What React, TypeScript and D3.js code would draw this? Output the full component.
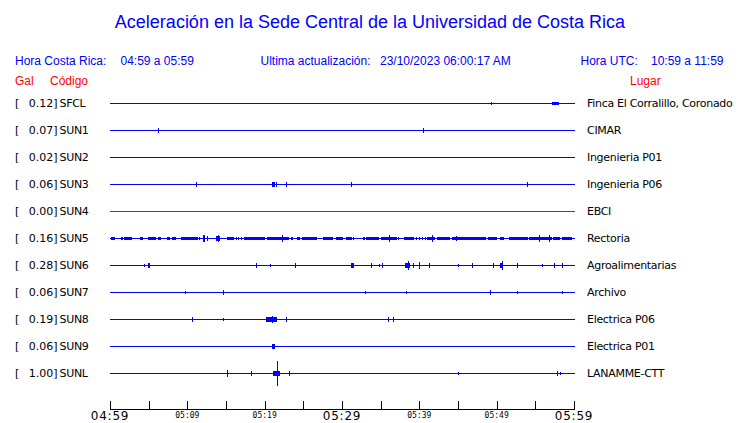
import React from "react";
import * as d3 from "d3";

const W = 740;
const H = 423;

const titleText = "Aceleración en la Sede Central de la Universidad de Costa Rica";
const headerLocal = ["Hora Costa Rica:", "04:59 a 05:59"];
const headerUpdate = ["Ultima actualización:", "23/10/2023 06:00:17 AM"];
const headerUtc = ["Hora UTC:", "10:59 a 11:59"];

const stations = ["SFCL", "SUN1", "SUN2", "SUN3", "SUN4", "SUN5", "SUN6", "SUN7", "SUN8", "SUN9", "SUNL"];
const peakGal = ["0.12", "0.07", "0.02", "0.06", "0.00", "0.16", "0.28", "0.06", "0.19", "0.06", "1.00"];
const places = [
  "Finca El Corralillo, Coronado",
  "CIMAR",
  "Ingenieria P01",
  "Ingenieria P06",
  "EBCI",
  "Rectoria",
  "Agroalimentarias",
  "Archivo",
  "Electrica P06",
  "Electrica P01",
  "LANAMME-CTT",
];
const traceColors = ["#0000ff", "#0000ff", "#0000ff", "#0000ff", "#ff0000", "#0000ff", "#0000ff", "#0000ff", "#0000ff", "#0000ff", "#0000ff"];

// events: [startMinute, endMinute, amplitude]
const evSFCL: number[][] = [[49.3, 49.3, 1], [57.1, 58.0, 1]];
const evSUN1: number[][] = [[6.25, 6.25, 2], [40.5, 40.5, 2]];
const evSUN2: number[][] = [];
const evSUN3: number[][] = [[11.08, 11.08, 2], [20.98, 21.3, 1.5], [21.5, 21.55, 2], [22.72, 22.72, 2], [31.12, 31.12, 2], [53.97, 53.97, 2]];
const evSUN4: number[][] = [];
const evSUN5: number[][] = [
  [0.13, 0.65, 1], [1.42, 1.64, 1], [1.85, 2.88, 1], [3.88, 4.31, 1], [4.87, 4.87, 1],
  [5.08, 5.91, 1], [6.17, 6.59, 1], [7.33, 7.76, 1], [7.98, 8.53, 1], [9.18, 11.42, 1],
  [11.55, 11.55, 1], [12.06, 12.32, 2.5], [12.5, 12.5, 1.5], [13.67, 14.22, 1.5], [13.95, 13.95, 2.5],
  [15.09, 15.09, 1], [15.3, 16.03, 1], [16.25, 16.25, 1], [16.59, 16.59, 1], [16.9, 16.9, 1],
  [17.37, 20.04, 1], [20.26, 23.19, 1], [22.2, 22.2, 2.5], [23.37, 23.62, 1], [24.14, 24.57, 1],
  [24.83, 26.77, 1], [27.5, 28.8, 1], [29.18, 30.09, 1], [30.48, 31.25, 1], [31.46, 31.46, 1],
  [32.67, 32.67, 1], [32.88, 32.88, 1], [33.06, 34.82, 1], [35.04, 37.07, 1], [36.04, 36.04, 2.5],
  [37.2, 37.4, 1], [38.02, 39.31, 1], [39.53, 39.53, 1], [39.96, 39.96, 1], [40.34, 40.34, 1],
  [40.73, 40.73, 1], [40.95, 42.03, 1], [41.6, 41.6, 2.5], [42.32, 43.97, 1], [44.26, 48.62, 1],
  [44.7, 44.7, 2], [48.84, 50.0, 1], [50.43, 50.95, 1], [51.6, 54.09, 1], [54.22, 57.11, 1],
  [55.5, 55.5, 2.5], [56.8, 56.8, 2.5], [57.33, 58.19, 1], [58.49, 59.7, 1],
];
const evSUN6: number[][] = [
  [4.44, 4.44, 1], [4.87, 5.17, 1.5], [18.9, 19.05, 1.5], [20.73, 20.73, 1], [23.97, 23.97, 1.5],
  [31.12, 31.55, 2], [33.71, 33.71, 1.5], [34.83, 34.83, 1], [35.2, 35.3, 2], [38.15, 38.79, 2],
  [38.58, 38.58, 3.5], [39.18, 39.26, 2], [39.96, 39.96, 3], [41.21, 41.21, 1.5], [45.04, 45.04, 1],
  [46.85, 46.85, 1.5], [49.56, 49.56, 1.5], [50.43, 50.86, 2], [50.65, 50.65, 3.5], [52.59, 52.59, 1.5],
  [55.82, 55.82, 1], [57.45, 57.45, 1.5], [58.4, 58.4, 1.5],
];
const evSUN7: number[][] = [[9.7, 9.7, 1], [14.6, 14.8, 1.5], [33.0, 33.0, 1], [38.3, 38.3, 1], [49.1, 49.1, 1.5], [52.6, 52.6, 1], [58.5, 58.5, 1]];
const evSUN8: number[][] = [[10.6, 10.6, 1.5], [14.6, 14.6, 1], [20.2, 21.6, 2], [20.9, 20.9, 3], [22.8, 22.8, 1.5], [36.0, 36.0, 2], [36.6, 36.6, 2]];
const evSUN9: number[][] = [[21.0, 21.3, 1.5]];
const evSUNL: number[][] = [
  [15.09, 15.09, 3], [18.28, 18.28, 1.5], [21.12, 21.98, 2], [21.64, 21.64, 11.5],
  [23.15, 23.15, 1.5], [45.0, 45.0, 1], [57.8, 57.8, 1.5], [58.2, 58.2, 1],
];
const events = [evSFCL, evSUN1, evSUN2, evSUN3, evSUN4, evSUN5, evSUN6, evSUN7, evSUN8, evSUN9, evSUNL];

const tickMinutes = d3.range(0, 61, 5);
const labelMinutes = [0, 10, 20, 30, 40, 50, 60];
const labelTexts = ["04:59", "05:09", "05:19", "05:29", "05:39", "05:49", "05:59"];
const majorLabels = ["04:59", "05:29", "05:59"];

export default function App() {
  const x = d3.scaleLinear().domain([0, 60]).range([110, 574]);
  const row = d3.scaleBand().domain(stations).range([89.5, 386.5]);
  const amp = d3.scaleLinear().domain([0, 12]).range([0, 12]);
  const rowY = (s: string) => Math.round((row(s) as number) + row.bandwidth() / 2);

  const axisY = 409;
  const sans = "'Liberation Sans', Arial, Helvetica, sans-serif";
  const dv = "'DejaVu Sans', sans-serif";
  const mono = "'DejaVu Sans Mono', monospace";

  return (
    <div style={{ position: "absolute", left: 0, top: 0 }}>
      <svg width={W} height={H} style={{ display: "block", background: "#fff" }}>
        <text x={370} y={28} textAnchor="middle" fontFamily={sans} fontSize={18} fill="#0000ff">
          {titleText}
        </text>
        <g fontFamily={sans} fontSize={12} fill="#0000ff">
          <text x={15} y={65}>{headerLocal[0]}</text>
          <text x={120.5} y={65}>{headerLocal[1]}</text>
          <text x={260.5} y={65}>{headerUpdate[0]}</text>
          <text x={380} y={65}>{headerUpdate[1]}</text>
          <text x={580.5} y={65}>{headerUtc[0]}</text>
          <text x={651} y={65}>{headerUtc[1]}</text>
        </g>
        <g fontFamily={sans} fontSize={12} fill="#ff0000">
          <text x={15} y={85}>Gal</text>
          <text x={50} y={85}>Código</text>
          <text x={630} y={85}>Lugar</text>
        </g>
        {stations.map((s, i) => {
          const cy = rowY(s);
          const col = traceColors[i];
          return (
            <g key={s}>
              <text x={15} y={cy + 4} fontFamily={dv} fontSize={11} fill="#000">[</text>
              <text x={57.5} y={cy + 4} textAnchor="end" fontFamily={dv} fontSize={11} fill="#000">
                {peakGal[i] + "]"}
              </text>
              <text x={59.5} y={cy + 4} fontFamily={dv} fontSize={11} letterSpacing={-0.3} fill="#000">{s}</text>
              <text x={587} y={cy + 4} fontFamily={dv} fontSize={11} letterSpacing={-0.3} fill="#000">{places[i]}</text>
              <rect x={x(0)} y={cy} width={x(60) - x(0) + 1} height={1} fill={col} shapeRendering="crispEdges" />
              {events[i].map((e, j) => {
                const x0 = Math.round(x(e[0]));
                const x1 = Math.max(Math.round(x(e[1])), x0 + 1);
                const a = Math.round(amp(e[2]));
                return (
                  <rect key={j} x={x0} y={cy - a} width={x1 - x0} height={2 * a + 1} fill={col} shapeRendering="crispEdges" />
                );
              })}
            </g>
          );
        })}
        <g shapeRendering="crispEdges">
          <line x1={x(0)} x2={x(60) + 1} y1={axisY + 0.5} y2={axisY + 0.5} stroke="#000" strokeWidth={1} />
          {tickMinutes.map((m) => (
            <line key={m} x1={Math.round(x(m)) + 0.5} x2={Math.round(x(m)) + 0.5} y1={axisY - 8} y2={axisY + 1} stroke="#000" strokeWidth={1} />
          ))}
        </g>
        {labelMinutes.map((m, i) => {
          const major = majorLabels.includes(labelTexts[i]);
          return (
            <text
              key={m}
              x={x(m)}
              y={major ? 419.5 : 417.5}
              textAnchor="middle"
              fontFamily={major ? dv : mono}
              fontSize={major ? 12 : 8}
              letterSpacing={major ? 0.8 : 0}
              fill="#000"
            >
              {labelTexts[i]}
            </text>
          );
        })}
      </svg>
    </div>
  );
}
